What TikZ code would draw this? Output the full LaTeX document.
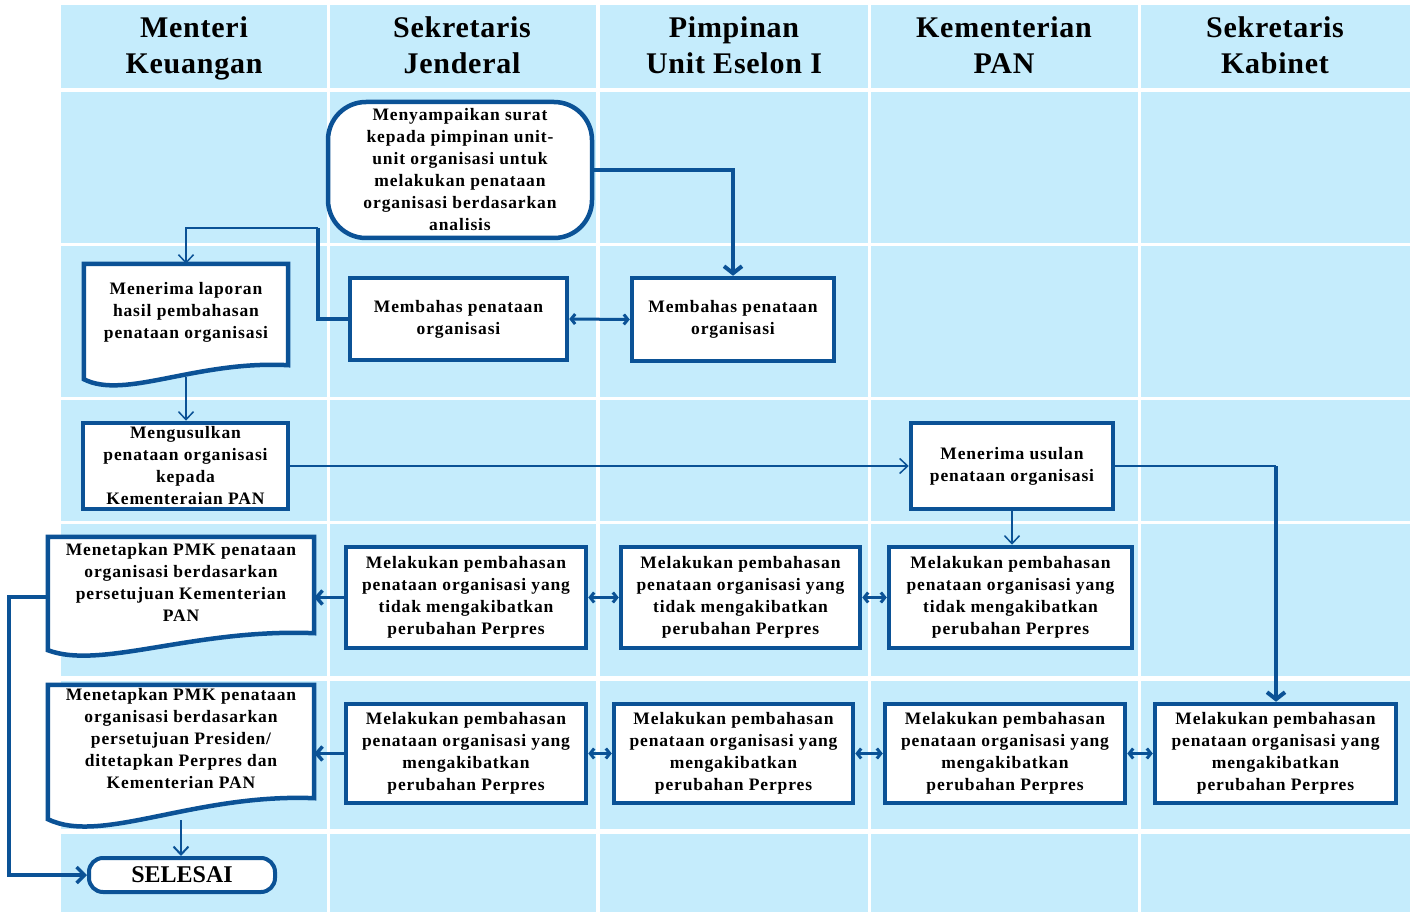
\documentclass[tikz,border=0pt]{standalone}
\usepackage{fontspec}
\setmainfont{Liberation Serif}
\newfontfamily\bxfont[LetterSpace=5]{Liberation Serif}
\newfontfamily\hdfont[LetterSpace=2.5]{Liberation Serif}
\usetikzlibrary{arrows.meta,calc}
\definecolor{lane}{RGB}{197,236,252}
\definecolor{dblue}{RGB}{11,82,150}
\pgfdeclarelayer{lanes}
\pgfdeclarelayer{shapes}
\pgfsetlayers{lanes,shapes,main}
\newcommand\mydoc[4]{%
  \draw[docline] (#1.north west) -- (#1.north east) -- ($(#1.south east)+(0,5)$)
    .. controls ($(#1.south east)!0.45!(#1.south west)+(0,#2)$) and ($(#1.south east)!0.8!(#1.south west)+(0,#3)$)
    .. ($(#1.south west)+(0,#4)$) -- cycle;}
\begin{document}
\begin{tikzpicture}[x=1pt,y=-1pt,
  txt/.style={align=center,text=black,font=\bxfont\bfseries\fontsize{17.5}{22}\selectfont},
  box/.style={txt,draw=dblue,line width=4.5pt,fill=white,inner sep=1pt},
  doctext/.style={txt,inner sep=0pt},
  docline/.style={draw=dblue,line width=4.5pt,fill=white},
  head/.style={align=center,text=black,font=\hdfont\bfseries\fontsize{30}{36}\selectfont},
  thinarr/.style={draw=dblue,line width=1.5pt,-{Straight Barb[length=8pt,width=15pt]}},
  thinline/.style={draw=dblue,line width=1.5pt},
  midline/.style={draw=dblue,line width=3.5pt},
  bigarr/.style={draw=dblue,line width=4pt,-{Straight Barb[length=7pt,width=18pt]}},
  dblarr/.style={draw=dblue,line width=3pt,{Straight Barb[length=4pt,width=10pt]}-{Straight Barb[length=4pt,width=10pt]}},
  leftarr/.style={draw=dblue,line width=3.5pt,-{Straight Barb[length=6pt,width=14pt]}},
]
\useasboundingbox (0,0) rectangle (1414,912);
\begin{pgfonlayer}{lanes}
\fill[white] (0,0) rectangle (1414,912);
\foreach \xa/\xb in {61/327,330/596,600/868,871/1138,1141/1410}
  \foreach \ya/\yb in {5/88,92/243,246/397,400/521,524/676,681/829,834/912}
    \fill[lane] (\xa,\ya) rectangle (\xb,\yb);
\end{pgfonlayer}

% headers
\node[head] (h1) at (194,48) {Menteri\strut\\Keuangan\strut};
\node[head] (h2) at (462,48) {Sekretaris\strut\\Jenderal\strut};
\node[head] (h3) at (734,48) {Pimpinan\strut\\Unit Eselon I\strut};
\node[head] (h4) at (1004,48) {Kementerian\strut\\PAN\strut};
\node[head] (h5) at (1275,48) {Sekretaris\strut\\Kabinet\strut};

% nodes
\node[box,rounded corners=38pt,minimum width=264pt,minimum height=136pt] (n1) at (460,170)
  {Menyampaikan surat\\kepada pimpinan unit-\\unit organisasi untuk\\melakukan penataan\\organisasi berdasarkan\\analisis};
\node[box,minimum width=217pt,minimum height=82pt] (sek) at (458.5,319) {Membahas penataan\\organisasi};
\node[box,minimum width=202pt,minimum height=83pt] (pimp) at (733,319.5) {Membahas penataan\\organisasi};

\node[doctext,minimum width=204pt,minimum height=96pt] (lap) at (186,312) {Menerima laporan\\hasil pembahasan\\penataan organisasi};
\node[box,minimum width=205pt,minimum height=86pt] (usul) at (185.5,466) {Mengusulkan\\penataan organisasi\\kepada\\Kementeraian PAN};
\node[box,minimum width=202pt,minimum height=86pt] (terima) at (1012,466) {Menerima usulan\\penataan organisasi};

\node[doctext,minimum width=266pt,minimum height=91pt] (pmk1) at (181,582.5) {Menetapkan PMK penataan\\organisasi berdasarkan\\persetujuan Kementerian\\PAN};
\node[box,minimum width=240pt,minimum height=101pt] (r4c2) at (466,597.5) {Melakukan pembahasan\\penataan organisasi yang\\tidak mengakibatkan\\perubahan Perpres};
\node[box,minimum width=239pt,minimum height=101pt] (r4c3) at (740.5,597.5) {Melakukan pembahasan\\penataan organisasi yang\\tidak mengakibatkan\\perubahan Perpres};
\node[box,minimum width=243pt,minimum height=101pt] (r4c4) at (1010.5,597.5) {Melakukan pembahasan\\penataan organisasi yang\\tidak mengakibatkan\\perubahan Perpres};

\node[doctext,minimum width=266pt,minimum height=108pt] (pmk2) at (181,739) {Menetapkan PMK penataan\\organisasi berdasarkan\\persetujuan Presiden/\\ditetapkan Perpres dan\\Kementerian PAN};
\node[box,minimum width=240pt,minimum height=99pt] (r5c2) at (466,753.5) {Melakukan pembahasan\\penataan organisasi yang\\mengakibatkan\\perubahan Perpres};
\node[box,minimum width=239pt,minimum height=99pt] (r5c3) at (733.5,753.5) {Melakukan pembahasan\\penataan organisasi yang\\mengakibatkan\\perubahan Perpres};
\node[box,minimum width=240pt,minimum height=99pt] (r5c4) at (1005,753.5) {Melakukan pembahasan\\penataan organisasi yang\\mengakibatkan\\perubahan Perpres};
\node[box,minimum width=241pt,minimum height=99pt] (r5c5) at (1275.5,753.5) {Melakukan pembahasan\\penataan organisasi yang\\mengakibatkan\\perubahan Perpres};

\node[draw=dblue,line width=4pt,fill=white,rounded corners=14pt,minimum width=186pt,minimum height=34pt,inner sep=0pt,
  font=\bfseries\fontsize{24}{28}\selectfont] (sel) at (182,875) {SELESAI};

\begin{pgfonlayer}{shapes}
\mydoc{lap}{0}{40}{19}
\mydoc{pmk1}{0}{42}{22}
\mydoc{pmk2}{0}{52}{26}
\end{pgfonlayer}

% connectors
\coordinate (k1) at (318,228);
\coordinate (k2) at (1276,466);
\coordinate (k3) at (9,597);
\coordinate (lapb) at ($(lap.south)+(0,17)$);
\coordinate (pmk2b) at ($(pmk2.south)+(0,27)$);

\draw[bigarr] (n1.east) -| (pimp.north);
\draw[midline] (sek.west) -| (k1);
\draw[thinarr] (k1) -| (lap.north);
\draw[dblarr] (sek.east) -- (pimp.west);
\draw[thinarr] (lapb) -- (lapb |- usul.north);
\draw[thinarr] (usul.east) -- (terima.west);
\draw[thinline] (terima.east) -- (k2);
\draw[bigarr] (k2) -- (k2 |- r5c5.north);
\draw[thinarr] (terima.south) -- (terima.south |- r4c4.north);

\draw[dblarr] (r4c4.west) -- (r4c3.east);
\draw[dblarr] (r4c3.west) -- (r4c2.east);
\draw[leftarr] (r4c2.west) -- (r4c2.west -| pmk1.east);

\draw[dblarr] (r5c5.west) -- (r5c4.east);
\draw[dblarr] (r5c4.west) -- (r5c3.east);
\draw[dblarr] (r5c3.west) -- (r5c2.east);
\draw[leftarr] (r5c2.west) -- (r5c2.west -| pmk2.east);

\draw[draw=dblue,line width=2pt,-{Straight Barb[length=8pt,width=15pt]}] (pmk2b) -- (pmk2b |- sel.north);
\draw[draw=dblue,line width=3.5pt,-{Straight Barb[length=8pt,width=16pt]}] (pmk1.west |- k3) -- (k3) |- (sel.west);
\end{tikzpicture}
\end{document}
